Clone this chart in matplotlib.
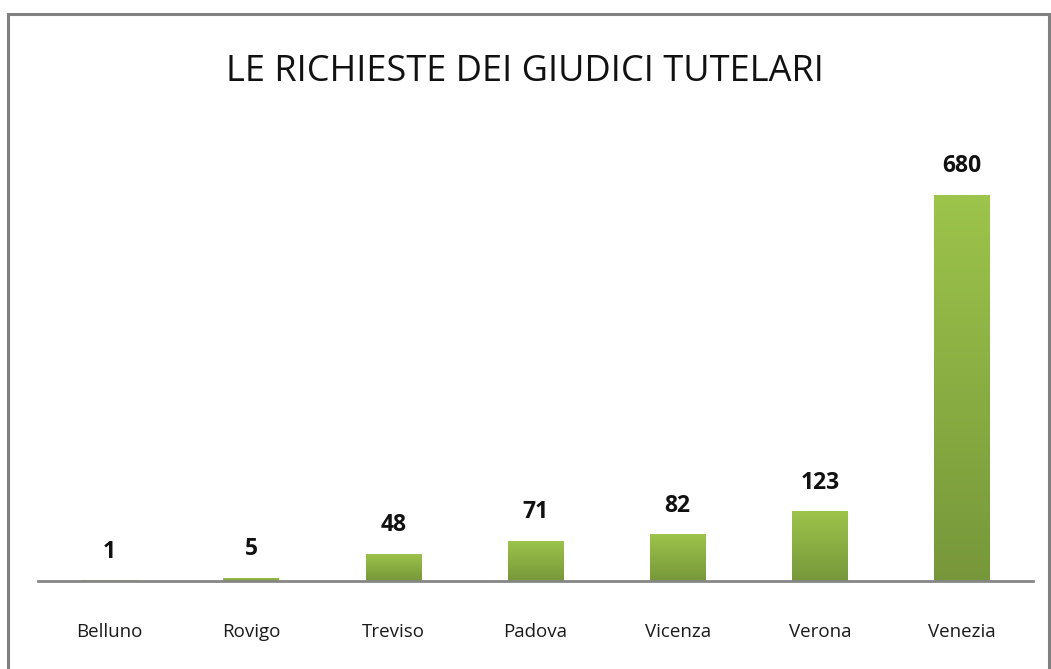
import matplotlib
matplotlib.use("Agg")
import matplotlib.pyplot as plt
import numpy as np
from matplotlib.colors import LinearSegmentedColormap
from matplotlib.patches import Rectangle
import matplotlib.patheffects as pe

categories = ["Belluno", "Rovigo", "Treviso", "Padova", "Vicenza", "Verona", "Venezia"]
values = [1, 5, 48, 71, 82, 123, 680]
title = "LE RICHIESTE DEI GIUDICI TUTELARI"

plt.rcParams['font.family'] = ['Open Sans', 'DejaVu Sans']

fig = plt.figure(figsize=(10.51, 6.69), dpi=100)
fig.patch.set_facecolor('white')

# outer border
W, H = 1051, 669
border = Rectangle((8 / W, -0.05), (1049 - 8) / W, (669 - 14) / H + 0.05,
                   transform=fig.transFigure, fill=False, edgecolor='#808080',
                   linewidth=2.2, zorder=0)
fig.patches.append(border)

ax = fig.add_axes([38 / W, 1 - 581 / H, (1033 - 38) / W, (581 - 127) / H])
ax.set_xlim(-0.5, len(categories) - 0.5)
ax.set_ylim(0, 800)
for s in ['top', 'right', 'left']:
    ax.spines[s].set_visible(False)
ax.spines['bottom'].set_color('#868686')
ax.spines['bottom'].set_linewidth(2)
ax.set_yticks([])
ax.set_xticks(range(len(categories)))
ax.set_xticklabels(categories, fontsize=13.5, color='#1a1a1a')
ax.tick_params(axis='x', length=0, pad=30)

cmap = LinearSegmentedColormap.from_list('g', ['#77973A', '#9DC44B'])
grad = np.linspace(0, 1, 256).reshape(-1, 1)
bw = 0.39
bars = ax.bar(range(len(categories)), values, width=bw, color='none', edgecolor='none')
for b, v in zip(bars, values):
    x0 = b.get_x()
    # shadow
    sh = Rectangle((x0, 0), bw, v, facecolor='#9DC44B', edgecolor='none', zorder=1)
    sh.set_path_effects([pe.SimplePatchShadow(offset=(0, 0), shadow_rgbFace='#bbbbbb', alpha=0.5), pe.Normal()])
    ax.add_patch(sh)
    im = ax.imshow(grad, extent=(x0, x0 + bw, 0, v), origin='lower', cmap=cmap,
                   aspect='auto', zorder=2, interpolation='bilinear')
    clip = Rectangle((x0, 0), bw, v, transform=ax.transData)
    im.set_clip_path(clip)
    ax.annotate(str(v), (b.get_x() + bw / 2, v), xytext=(0, 12), textcoords='offset points',
                ha='center', va='bottom', fontsize=16.5, fontweight='bold', color='#111111')

ax.set_xlim(-0.5, len(categories) - 0.5)
ax.set_ylim(0, 800)

fig.text(525 / W, 1 - 72 / H, title, ha='center', va='center', fontsize=26, color='#111111')

fig.savefig('out.png', dpi=100, facecolor='white')
